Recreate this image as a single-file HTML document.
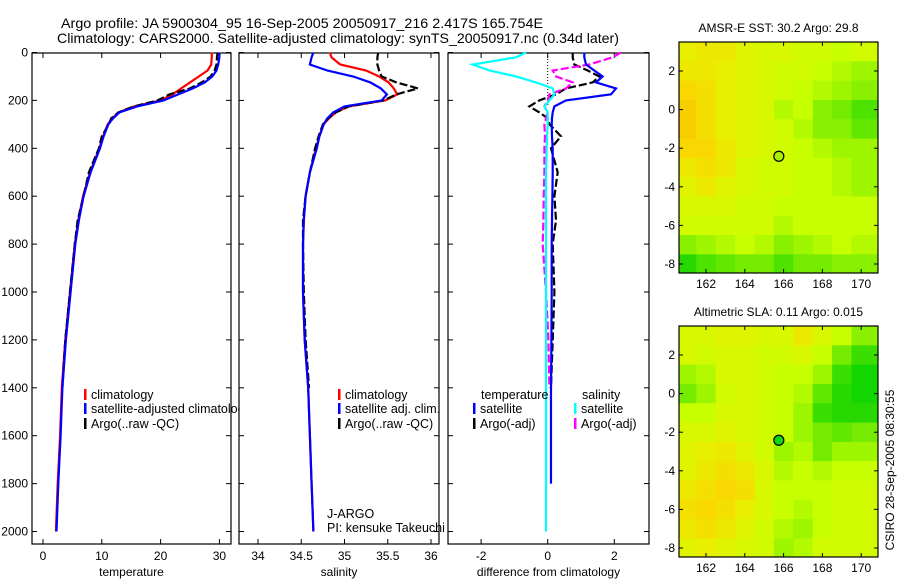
<!DOCTYPE html>
<html><head><meta charset="utf-8">
<style>
html,body{margin:0;padding:0;background:#fff;}
svg{display:block;font-family:"Liberation Sans",Arial,sans-serif;}
text{fill:#000;}
</style></head>
<body>
<svg id="chart" width="900" height="580" viewBox="0 0 900 580" xmlns="http://www.w3.org/2000/svg">
<defs>
<clipPath id="clipP1"><rect x="0" y="0" width="238.5" height="580"/></clipPath>
<clipPath id="clipM1"><rect x="679" y="42" width="199" height="231"/></clipPath>
<clipPath id="clipM2"><rect x="679" y="326" width="199" height="231"/></clipPath>
</defs>
<text x="61" y="28" font-size="14" textLength="482" lengthAdjust="spacingAndGlyphs">Argo profile: JA 5900304_95 16-Sep-2005 20050917_216 2.417S 165.754E</text>
<text x="57" y="43" font-size="14" textLength="562" lengthAdjust="spacingAndGlyphs">Climatology: CARS2000. Satellite-adjusted climatology: synTS_20050917.nc (0.34d later)</text>
<g id="g1"></g>
<g id="g2"></g>
<g id="g3"></g>
<g id="m1"></g>
<g id="m2"></g>
<text font-size="12" transform="translate(894,470) rotate(-90)" text-anchor="middle">CSIRO 28-Sep-2005 08:30:55</text>
</svg>
<script>
// ---- profile data ----
const depths = [0,20,50,75,100,125,150,175,200,225,250,275,300,350,400,500,600,700,800,1000,1200,1400,1600,1800,2000];
const tempClim = [28.7,28.7,28.6,28.0,26.5,25.0,23.5,22.0,20.0,15.5,12.8,11.8,11.0,10.2,9.6,8.0,6.8,6.0,5.4,4.6,3.8,3.2,2.9,2.5,2.2];
const tempSat  = [30.0,30.0,29.8,29.5,28.8,27.5,25.5,23.0,20.5,16.0,13.0,11.9,11.1,10.3,9.7,8.1,6.9,6.1,5.5,4.7,3.9,3.3,3.0,2.6,2.3];
const tempArgo = [29.7,29.6,29.5,29.2,28.5,27.0,25.0,21.5,19.5,15.5,12.8,11.6,11.2,10.0,9.5,7.8,6.9,5.9,5.4,4.6,3.8,3.3];
const salClim = [34.83,34.85,34.95,35.25,35.40,35.51,35.57,35.61,35.47,35.05,34.90,34.82,34.76,34.71,34.67,34.60,34.55,34.53,34.52,34.52,34.54,34.58,34.60,34.62,34.64];
const salSat  = [34.64,34.62,34.60,34.80,35.10,35.30,35.42,35.49,35.43,35.00,34.87,34.80,34.76,34.71,34.68,34.60,34.55,34.53,34.52,34.52,34.54,34.58,34.60,34.62,34.64];
const salArgo = [35.39,35.38,35.38,35.40,35.43,35.60,35.85,35.60,35.45,35.05,34.90,34.81,34.75,34.70,34.66,34.60,34.55,34.52,34.52,34.53,34.55,34.59];
const dTempSat  = [1.1,1.1,1.15,1.4,1.65,1.45,2.05,1.9,0.55,0.2,0.15,0.13,0.12,0.13,0.15,0.15,0.14,0.13,0.12,0.12,0.11,0.1,0.1,0.1];
const dTempArgo = [0.75,0.75,0.8,1.2,1.55,1.35,0.55,0.25,-0.25,-0.55,-0.25,0.0,0.05,0.4,0.1,0.3,0.2,0.25,0.15,0.2,0.15,0.1];
const dSalSat   = [-0.65,-0.95,-2.25,-1.75,-0.95,-0.35,0.15,0.2,0.05,-0.1,0.0,0.0,0.0,-0.02,-0.03,-0.05,-0.05,-0.05,-0.05,-0.05,-0.05,-0.05,-0.05,-0.05,-0.05];
const dSalArgo  = [2.2,1.95,1.25,0.15,0.25,0.75,0.55,0.05,0.0,-0.1,0.0,-0.05,-0.1,-0.08,-0.1,-0.1,-0.12,-0.13,-0.15,-0.05,0.02,0.05];
const depthTicks = [0,200,400,600,800,1000,1200,1400,1600,1800,2000];
const tempTicks = [0,10,20,30];
const salTicks = [34,34.5,35,35.5,36];
const salTickLabels = ["34","34.5","35","35.5","36"];
const diffTicks = [-2,0,2];

// ---- map data (rows: lat 3 .. -8, cols: lon 161 .. 170) ----
const mapLons = [161,162,163,164,165,166,167,168,169,170];
const mapLats = [3,2,1,0,-1,-2,-3,-4,-5,-6,-7,-8];
const sstGrid = [
[.70,.75,.75,.65,.60,.60,.55,.55,.50,.55],
[.75,.75,.70,.65,.60,.55,.55,.50,.45,.40],
[.85,.80,.70,.65,.60,.55,.50,.45,.40,.35],
[.90,.80,.70,.65,.60,.45,.50,.35,.30,.20],
[.90,.80,.70,.65,.60,.55,.45,.35,.35,.25],
[.85,.85,.75,.65,.60,.55,.50,.45,.40,.40],
[.75,.80,.75,.60,.55,.55,.50,.50,.45,.40],
[.65,.75,.65,.60,.55,.55,.50,.50,.45,.40],
[.60,.60,.60,.55,.55,.50,.50,.50,.50,.50],
[.55,.55,.55,.55,.55,.45,.50,.50,.50,.50],
[.35,.40,.45,.50,.45,.35,.40,.45,.50,.45],
[.10,.20,.25,.30,.30,.20,.30,.30,.35,.35]];
const slaGrid = [
[.60,.60,.65,.65,.60,.60,.75,.60,.50,.35],
[.60,.55,.60,.60,.55,.55,.60,.50,.30,.15],
[.40,.45,.60,.60,.55,.50,.50,.40,.15,.05],
[.30,.40,.55,.60,.55,.50,.45,.25,.10,.05],
[.50,.50,.60,.60,.55,.50,.40,.15,.10,.10],
[.60,.60,.65,.60,.55,.50,.40,.30,.25,.30],
[.65,.70,.75,.65,.55,.40,.45,.30,.40,.40],
[.65,.75,.80,.75,.60,.45,.50,.45,.50,.50],
[.75,.80,.85,.80,.60,.50,.50,.50,.55,.55],
[.80,.85,.80,.70,.60,.50,.45,.50,.55,.55],
[.75,.80,.75,.65,.55,.45,.40,.50,.55,.55],
[.65,.70,.65,.60,.55,.40,.45,.55,.55,.55]];
const argoPos = [165.754,-2.417];
const lonTicks = [162,164,166,168,170];
const latTicks = [2,0,-2,-4,-6,-8];

const NS="http://www.w3.org/2000/svg";
function mk(parent,tag,attrs){const e=document.createElementNS(NS,tag);for(const k in attrs)e.setAttribute(k,attrs[k]);parent.appendChild(e);return e;}

const Y0=53, Y1=544;
const yD = d => 52.5 + d*0.2395;

function panel(g,x0,x1,xs,ticks,labels,name,showY){
  mk(g,'rect',{x:x0,y:Y0,width:x1-x0,height:Y1-Y0,fill:'none',stroke:'#000','stroke-width':1.2});
  depthTicks.forEach(d=>{
    const y=yD(d);
    mk(g,'line',{x1:x0,x2:x0+5,y1:y,y2:y,stroke:'#000'});
    mk(g,'line',{x1:x1-5,x2:x1,y1:y,y2:y,stroke:'#000'});
    if(showY){const t=mk(g,'text',{x:28,y:y+4,'font-size':12,'text-anchor':'end'});t.textContent=String(d);
      
      }
  });
  ticks.forEach((v,i)=>{
    const x=xs(v);
    mk(g,'line',{x1:x,x2:x,y1:Y1-5,y2:Y1,stroke:'#000'});
    mk(g,'line',{x1:x,x2:x,y1:Y0,y2:Y0+5,stroke:'#000'});
    const t=mk(g,'text',{x:x,y:560,'font-size':12,'text-anchor':'middle'});t.textContent=labels[i];
    
    
  });
  const t=mk(g,'text',{x:(x0+x1)/2,y:576,'font-size':12,'text-anchor':'middle'});t.textContent=name;
  
  
}
function line(g,vals,xs,color,dash,nm){
  const pts=vals.map((v,i)=>xs(v).toFixed(1)+','+yD(depths[i]).toFixed(1)).join(' ');
  const p=mk(g,'polyline',{points:pts,fill:'none',stroke:color,'stroke-width':2.2});
  if(dash)p.setAttribute('stroke-dasharray',dash);
  
  
}
function legend(g,x,y,color,label){
  mk(g,'rect',{x:x,y:y-8,width:2.5,height:11,fill:color});
  const t=mk(g,'text',{x:x+7,y:y+2,'font-size':12.5});t.textContent=label;
  
  
}

// Panel 1
const g1=document.getElementById('g1');
const xT=v=>43+v*5.88;
panel(g1,32,231,xT,tempTicks,tempTicks.map(String),'temperature',true);
line(g1,tempClim,xT,'#f00',null,'temp-climatology-line');
line(g1,tempArgo,xT,'#000','8,3','temp-argo-line');
line(g1,tempSat,xT,'#00f',null,'temp-satellite-line');
const lg1=mk(g1,'g',{'clip-path':'url(#clipP1)'});
legend(lg1,84,397,'#f00','climatology');
legend(lg1,84,411,'#00f','satellite-adjusted climatology');
legend(lg1,84,426,'#000','Argo(..raw -QC)');

// Panel 2
const g2=document.getElementById('g2');
const xS=v=>258+(v-34)*86.5;
panel(g2,239,439,xS,salTicks,salTickLabels,'salinity',false);
line(g2,salClim,xS,'#f00',null,'sal-climatology-line');
line(g2,salArgo,xS,'#000','8,3','sal-argo-line');
line(g2,salSat,xS,'#00f',null,'sal-satellite-line');
legend(g2,338,397,'#f00','climatology');
legend(g2,338,411,'#00f','satellite adj. clim.');
legend(g2,338,426,'#000','Argo(..raw -QC)');
let t=mk(g2,'text',{x:327,y:518,'font-size':12.5});t.textContent='J-ARGO';


t=mk(g2,'text',{x:327,y:532,'font-size':12.5});t.textContent='PI: kensuke Takeuchi';



// Panel 3
const g3=document.getElementById('g3');
const xDf=v=>547.7+v*33.3;
panel(g3,448,649,xDf,diffTicks,diffTicks.map(String),'difference from climatology',false);
mk(g3,'line',{x1:xDf(0),x2:xDf(0),y1:Y0,y2:yD(220),stroke:'#000','stroke-dasharray':'1,2'});
line(g3,dTempArgo,xDf,'#000','8,3','diff-temp-argo-line');
line(g3,dSalArgo,xDf,'#f0f','8,3','diff-sal-argo-line');
line(g3,dTempSat,xDf,'#00f',null,'diff-temp-satellite-line');
line(g3,dSalSat,xDf,'#0ff',null,'diff-sal-satellite-line');
t=mk(g3,'text',{x:481,y:399,'font-size':12.5});t.textContent='temperature';


t=mk(g3,'text',{x:582,y:399,'font-size':12.5});t.textContent='salinity';


legend(g3,473,411,'#00f','satellite');
legend(g3,473,426,'#000','Argo(-adj)');
legend(g3,574,411,'#0ff','satellite');
legend(g3,574,426,'#f0f','Argo(-adj)');

// Maps
const stops=[[0,[0,208,0]],[0.33,[128,238,0]],[0.5,[200,255,0]],[0.7,[232,240,0]],[0.85,[248,216,0]],[1,[248,184,0]]];
function cmap(v){
  for(let i=1;i<stops.length;i++){if(v<=stops[i][0]){const a=stops[i-1],b=stops[i],f=(v-a[0])/(b[0]-a[0]);
    return 'rgb('+a[1].map((c,j)=>Math.round(c+(b[1][j]-c)*f)).join(',')+')';}}
  return 'rgb(248,184,0)';
}
function map(id,grid,top,title,clip,markerFill){
  const g=document.getElementById(id);
  const left=679,right=878,bottom=top+231;
  const xL=lon=>706+(lon-162)*19.4;
  const yL=lat=>top+29+(2-lat)*19.3;
  const cg=mk(g,'g',{'clip-path':'url(#'+clip+')'});
  grid.forEach((row,r)=>row.forEach((v,c)=>{
    const x=xL(mapLons[c]-0.5), y=yL(mapLats[r]+0.5);
    const w=xL(mapLons[c]+0.5)-x+0.5, h=yL(mapLats[r]-0.5)-y+0.5;
    const cell=mk(cg,'rect',{x:(c===0?left:x),y:(r===0?top:y),width:(c===0?w+(x-left):(c===mapLons.length-1?right-x:w)),height:(r===0?h+(y-top):(r===mapLats.length-1?bottom-y:h)),fill:cmap(v)});
    
    
  }));
  mk(g,'rect',{x:left,y:top,width:right-left,height:bottom-top,fill:'none',stroke:'#000','stroke-width':1.2});
  lonTicks.forEach(l=>{const x=xL(l);
    mk(g,'line',{x1:x,x2:x,y1:top,y2:top+4,stroke:'#000'});
    mk(g,'line',{x1:x,x2:x,y1:bottom-4,y2:bottom,stroke:'#000'});
    const tt=mk(g,'text',{x:x,y:bottom+15,'font-size':12,'text-anchor':'middle'});tt.textContent=String(l);
    
    
  });
  latTicks.forEach(l=>{const y=yL(l);
    mk(g,'line',{x1:left,x2:left+4,y1:y,y2:y,stroke:'#000'});
    mk(g,'line',{x1:right-4,x2:right,y1:y,y2:y,stroke:'#000'});
    const tt=mk(g,'text',{x:675,y:y+4,'font-size':12,'text-anchor':'end'});tt.textContent=String(l);
    
    
  });
  const c=mk(g,'circle',{cx:xL(argoPos[0]),cy:yL(argoPos[1]),r:5,fill:markerFill,stroke:'#000','stroke-width':1.2});
  
  
  const tt=mk(g,'text',{x:(left+right)/2,y:top-10,'font-size':12,'text-anchor':'middle'});tt.textContent=title;
  
  
}
map('m1',sstGrid,42,'AMSR-E SST: 30.2 Argo: 29.8','clipM1','#a8f000');
map('m2',slaGrid,326,'Altimetric SLA: 0.11 Argo: 0.015','clipM2','#10d810');
</script>
</body></html>
